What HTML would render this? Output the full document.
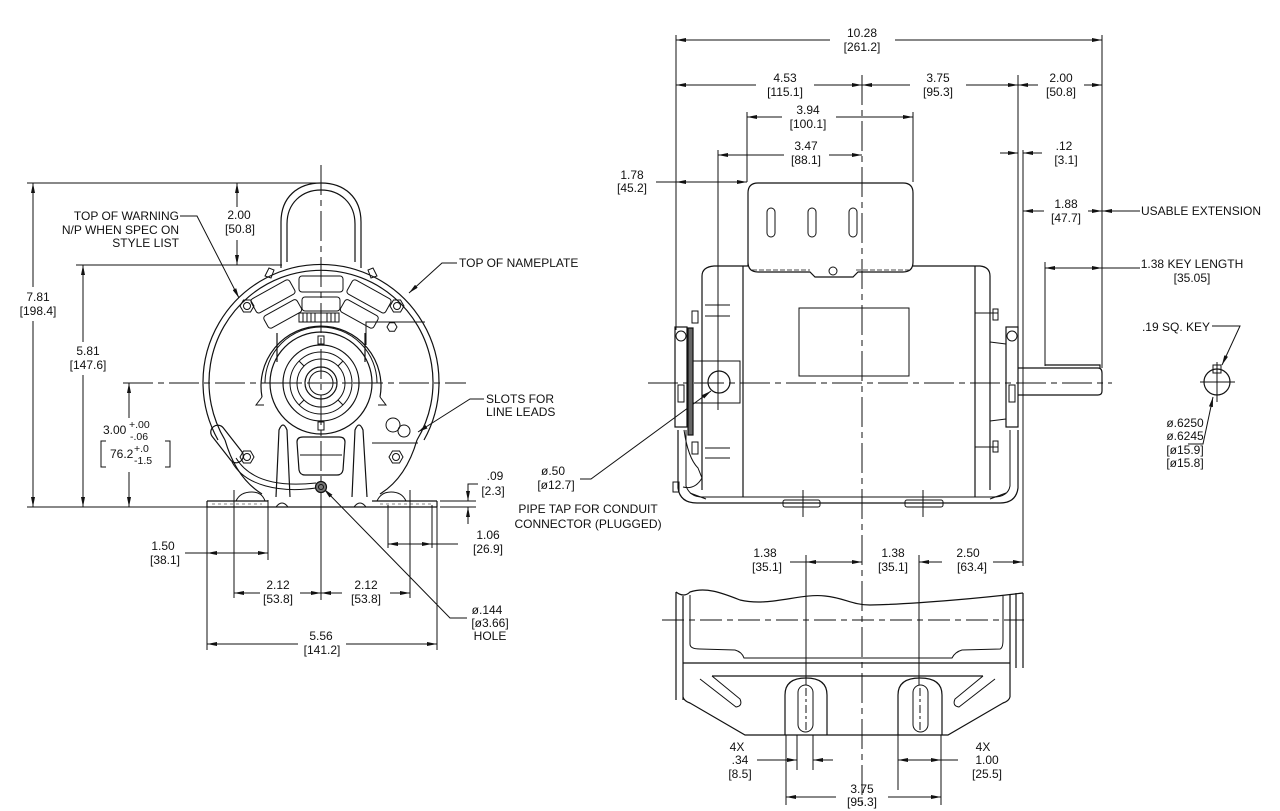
<!DOCTYPE html>
<html><head><meta charset="utf-8"><style>
body{margin:0;background:#fff}
svg{display:block}
text{font-family:"Liberation Sans",sans-serif;font-size:12px;fill:#111;stroke:none}
.s{font-size:10.5px}
</style></head><body>
<svg width="1280" height="811" viewBox="0 0 1280 811" xmlns="http://www.w3.org/2000/svg">
<defs>
<marker id="a" viewBox="0 0 10 4" refX="10" refY="2" markerWidth="10" markerHeight="4" markerUnits="userSpaceOnUse" orient="auto"><path d="M0,0L10,2L0,4z" fill="#111" stroke="none"/></marker>
</defs>
<rect width="1280" height="811" fill="#fff"/>
<g stroke="#111" fill="none" stroke-width="1">

<!-- ================= LEFT VIEW ================= -->
<path d="M123,383H466" stroke-dasharray="30,5,6,5"/>
<path d="M321,165V505" stroke-dasharray="30,5,6,5"/>
<path d="M321,505V600"/>
<path d="M27,183H325M27,507H207M76,265H282"/>
<path d="M207,507V650M234,490V598M268,500V560M388,505V548M410,490V598M432,505V548M437,507V650"/>
<path d="M440,501H476M440,507H476"/>
<path d="M33,287V183" marker-end="url(#a)"/>
<path d="M33,321V507" marker-end="url(#a)"/>
<path d="M83,342V265" marker-end="url(#a)"/>
<path d="M83,375V507" marker-end="url(#a)"/>
<path d="M237,207V183" marker-end="url(#a)"/>
<path d="M237,240V265" marker-end="url(#a)"/>
<path d="M129,418V383" marker-end="url(#a)"/>
<path d="M129,472V507" marker-end="url(#a)"/>
<path d="M478,484H468V501" marker-end="url(#a)"/>
<path d="M468,524V507" marker-end="url(#a)"/>
<path d="M410,544H388" marker-end="url(#a)"/>
<path d="M410,544H432" marker-end="url(#a)"/>
<path d="M432,544H458"/>
<path d="M185,553H207"/>
<path d="M237,553H207" marker-end="url(#a)"/>
<path d="M237,553H268" marker-end="url(#a)"/>
<path d="M260,593H234" marker-end="url(#a)"/>
<path d="M300,593H321" marker-end="url(#a)"/>
<path d="M342,593H321" marker-end="url(#a)"/>
<path d="M390,593H410" marker-end="url(#a)"/>
<path d="M298,644H207" marker-end="url(#a)"/>
<path d="M346,644H437" marker-end="url(#a)"/>
<path d="M180,216H197L239,298" marker-end="url(#a)"/>
<path d="M457,263H442L409,293" marker-end="url(#a)"/>
<path d="M484,399H470L418,432" marker-end="url(#a)"/>
<path d="M467,618H450L324,489" marker-end="url(#a)"/>
<path d="M580,479H591L711,391" marker-end="url(#a)"/>
<path d="M106,441H101V467H106M165,441H170V467H165"/>

<g stroke-width="1.2">
<path d="M281,268V222C281,197 298,183 321,183C344,183 361,197 361,222V268"/>
<path d="M287,262V224C287,203 302,190 321,190C340,190 355,203 355,224V262"/>
<path d="M218,440A118,118 0 1 1 424,440"/>
<path d="M225,440A112,112 0 1 1 417,440"/>
<path d="M225,440Q236,478 262,494M417,440Q406,478 380,494"/>
<path d="M265,276l4,-8 5,2 -3,8zM377,276l-4,-8 -5,2 3,8z" stroke-width="1"/>
<g stroke-width="1">
<rect x="299" y="276" width="44" height="16" rx="3" transform="rotate(-29 321 383)"/>
<rect x="299" y="276" width="44" height="16" rx="3"/>
<rect x="299" y="276" width="44" height="16" rx="3" transform="rotate(29 321 383)"/>
<rect x="302" y="297" width="38" height="14" rx="3" transform="rotate(-29 321 383)"/>
<rect x="302" y="297" width="38" height="14" rx="3"/>
<rect x="302" y="297" width="38" height="14" rx="3" transform="rotate(29 321 383)"/>
<rect x="299" y="313" width="40" height="9"/>
<path d="M303,313v9M307,313v9M311,313v9M315,313v9M327,313v9M331,313v9M335,313v9"/>
</g>
<path d="M262,397A60,60 0 1 1 380,397"/>
<path d="M262,397l-6,8h8M380,397l6,8h-8" stroke-width="1"/>
<path d="M277,333V362M365,333V362"/>
<circle cx="321" cy="383" r="51"/>
<path d="M265,383A56,56 0 0 1 377,383" stroke-width="1"/>
<circle cx="321" cy="383" r="38"/>
<circle cx="321" cy="383" r="31" stroke-width="1"/>
<circle cx="321" cy="383" r="24" stroke-width="1"/>
<path d="M321,352V359M321,407V414M290,383H297M345,383H352M299,361l5,5M343,361l-5,5M299,405l5,-5M343,405l-5,-5" stroke-width="1"/>
<circle cx="321" cy="383" r="16"/>
<circle cx="321" cy="383" r="12" stroke-width="1"/>
<path d="M318,336h6v8h-6zM318,422h6v8h-6z" stroke-width="1"/>
<path d="M276,497L279,430Q283,420 287,430L290,497M352,497L355,430Q359,420 363,430L367,497"/>
<path d="M297,442Q297,437 303,437H339Q345,437 345,442L343,470Q342,475 337,475H305Q300,475 299,470Z"/>
<path d="M300,455H342" stroke-width="1"/>
<path d="M366,345V322H425M372,443H418" stroke-width="1"/>
<circle cx="393" cy="425" r="7" stroke-width="1"/>
<circle cx="404" cy="431" r="6" stroke-width="1"/>
<g stroke-width="1">
<polygon points="254,306 250.5,312 243.5,312 240,306 243.5,300 250.5,300"/><circle cx="247" cy="306" r="3.5"/>
<polygon points="404,306 400.5,312 393.5,312 390,306 393.5,300 400.5,300"/><circle cx="397" cy="306" r="3.5"/>
<polygon points="254,457 250.5,463 243.5,463 240,457 243.5,451 250.5,451"/><circle cx="247" cy="457" r="3.5"/>
<polygon points="403,457 399.5,463 392.5,463 389,457 392.5,451 399.5,451"/><circle cx="396" cy="457" r="3.5"/>
<polygon points="397,327 394.5,331.3 389.5,331.3 387,327 389.5,322.7 394.5,322.7"/>
</g>
<rect x="-22" y="-7" width="44" height="14" rx="7" transform="translate(227,444) rotate(52)"/>
<path d="M232,462C245,486 280,493 316,488M236,458C250,481 280,487 316,483" stroke-width="1"/>
<circle cx="321" cy="487" r="5.5" fill="#777"/>
<circle cx="321" cy="487" r="2.5" stroke-width="1"/>
<path d="M207,501H268M372,501H437M207,507H437M207,501V507M437,501V507"/>
<path d="M236,501Q240,492 252,492Q262,492 265,501M377,501Q381,492 391,492Q402,492 406,501" stroke-width="1"/>
<path d="M276,507Q282,499 288,507M354,507Q360,499 366,507" stroke-width="1"/>
<path d="M212,504H262M380,504H432" stroke-width="0.6" stroke-dasharray="3,3"/>
</g>

<!-- ================= RIGHT VIEW ================= -->
<path d="M648,383H1112" stroke-dasharray="30,5,6,5"/>
<path d="M862,75V805" stroke-dasharray="30,5,6,5"/>
<path d="M676,35V330M1102,35V368M1018,75V350M1023,150V566M747,112V182M913,112V182M718,150V410M1045,262V366"/>
<path d="M830,40H676" marker-end="url(#a)"/>
<path d="M895,40H1102" marker-end="url(#a)"/>
<path d="M756,85H676" marker-end="url(#a)"/>
<path d="M814,85H862" marker-end="url(#a)"/>
<path d="M910,85H862" marker-end="url(#a)"/>
<path d="M966,85H1018" marker-end="url(#a)"/>
<path d="M1038,85H1018" marker-end="url(#a)"/>
<path d="M1084,85H1102" marker-end="url(#a)"/>
<path d="M782,117H747" marker-end="url(#a)"/>
<path d="M836,117H913" marker-end="url(#a)"/>
<path d="M784,155H718" marker-end="url(#a)"/>
<path d="M829,155H862" marker-end="url(#a)"/>
<path d="M1000,153H1018" marker-end="url(#a)"/>
<path d="M1042,153H1023" marker-end="url(#a)"/>
<path d="M656,182H676"/>
<path d="M711,182H676" marker-end="url(#a)"/>
<path d="M711,182H747" marker-end="url(#a)"/>
<path d="M1044,211H1023" marker-end="url(#a)"/>
<path d="M1088,211H1102" marker-end="url(#a)"/>
<path d="M1140,211H1102" marker-end="url(#a)"/>
<path d="M1074,268H1045" marker-end="url(#a)"/>
<path d="M1074,268H1102" marker-end="url(#a)"/>
<path d="M1102,268H1140"/>
<path d="M1212,326H1240L1222,365" marker-end="url(#a)"/>
<path d="M1188,444H1203L1213,397" marker-end="url(#a)"/>
<circle cx="1217" cy="382" r="13" stroke-width="1.2"/>
<rect x="1213" y="365" width="8" height="8"/>
<path d="M1200,382H1235M1217,362V402"/>

<g stroke-width="1.2">
<path d="M748,266V193Q748,183 758,183H903Q913,183 913,193V262Q913,272 903,272H858L853,277H815L810,272H758Q748,272 748,262"/>
<path d="M752,270H810M856,270H909" stroke-dasharray="5,2" stroke-width="0.8"/>
<circle cx="833" cy="271" r="4" stroke-width="1"/>
<rect x="767" y="208" width="8" height="29" rx="4" stroke-width="1"/>
<rect x="808" y="208" width="8" height="29" rx="4" stroke-width="1"/>
<rect x="849" y="208" width="8" height="29" rx="4" stroke-width="1"/>
<path d="M702,490V276Q702,267 714,266H748M913,266H980Q990,267 990,276V490"/>
<path d="M743,266V497M975,266V497"/>
<rect x="799" y="308" width="110" height="68" stroke-width="1"/>
<rect x="675" y="327" width="12" height="100"/>
<circle cx="681" cy="336" r="5" stroke-width="1"/>
<rect x="678" y="385" width="6" height="17" stroke-width="1"/>
<rect x="688" y="328" width="5" height="107" fill="#666"/>
<rect x="693" y="361" width="47" height="42" stroke-width="1"/>
<circle cx="719" cy="382" r="11"/>
<path d="M705,305H730M705,316H730M705,448H730M705,458H730" stroke-width="1"/>
<rect x="692" y="311" width="6" height="12" stroke-width="1"/>
<rect x="692" y="442" width="6" height="12" stroke-width="1"/>
<path d="M684,430Q688,458 698,468L702,478Q695,490 683,487" stroke-width="1"/>
<rect x="673" y="482" width="6" height="10" stroke-width="1"/>
<rect x="1006" y="327" width="12" height="100"/>
<circle cx="1012" cy="336" r="5" stroke-width="1"/>
<rect x="1009" y="385" width="6" height="17" stroke-width="1"/>
<path d="M975,313H998M975,447H998M990,342L1006,344M990,421L1006,419" stroke-width="1"/>
<rect x="993" y="309" width="5" height="11" stroke-width="1"/>
<rect x="993" y="441" width="5" height="11" stroke-width="1"/>
<path d="M678,430V488Q680,503 697,503H1000Q1016,503 1018,488V430"/>
<path d="M686,430V486Q690,497 702,497H993Q1008,497 1010,486V430" stroke-width="1"/>
<path d="M690,493L706,499M1006,493L990,499" stroke-width="1"/>
<rect x="783" y="500" width="37" height="7" rx="2" stroke-width="1"/>
<rect x="905" y="500" width="38" height="7" rx="2" stroke-width="1"/>
<path d="M1018,368H1098Q1102,368 1102,373V391Q1102,395 1098,395H1018"/>
<path d="M1045,365H1100V368"/>
</g>
<path d="M803,490V517M923,490V517"/>

<!-- ================= BOTTOM (BASE) VIEW ================= -->
<path d="M662,620H1024" stroke-dasharray="22,5,6,5"/>
<g stroke-width="1.2">
<path d="M676,592Q684,598 690,592C705,587 720,592 740,600C770,607 800,593 825,596C845,598 852,605 870,605C920,604 990,597 1023,593"/>
<path d="M676,592V700M683,596V700M1010,594V697M1016,593V668M1023,593V668"/>
<path d="M690,595V644Q690,649 700,649L735,650Q742,652 744,658H952Q955,652 962,650L1000,649Q1003,648 1003,640V596" stroke-width="1"/>
<path d="M683,663H1010M712,676H983"/>
<path d="M712,676L740,699Q743,706 736,707L700,679M983,676L955,699Q952,706 959,707L995,679" stroke-width="1"/>
<path d="M683,697Q684,701 690,703L745,735H948L1003,703Q1009,701 1010,697"/>
<path d="M785,735V695Q785,678 806,678Q827,678 827,695V735"/>
<path d="M898,735V695Q898,678 920,678Q942,678 942,695V735"/>
<rect x="798" y="685" width="15" height="47" rx="7.5" stroke-width="1"/>
<rect x="913" y="685" width="15" height="47" rx="7.5" stroke-width="1"/>
</g>
<path d="M806,555V685M919,555V685"/>
<path d="M806,688V730M920,688V730" stroke-dasharray="8,3,3,3"/>
<path d="M797,735V770M813,735V770M898,735V790M941,735V805M786,735V805"/>
<path d="M790,562H806"/>
<path d="M836,562H806" marker-end="url(#a)"/>
<path d="M836,562H862" marker-end="url(#a)"/>
<path d="M942,562H919" marker-end="url(#a)"/>
<path d="M993,562H1023" marker-end="url(#a)"/>
<path d="M757,760H797" marker-end="url(#a)"/>
<path d="M833,760H813" marker-end="url(#a)"/>
<path d="M920,760H898" marker-end="url(#a)"/>
<path d="M920,760H941" marker-end="url(#a)"/>
<path d="M941,760H958"/>
<path d="M836,797H786" marker-end="url(#a)"/>
<path d="M888,797H941" marker-end="url(#a)"/>
</g>

<!-- ================= TEXT ================= -->
<g text-anchor="middle">
<text x="38" y="301">7.81</text><text x="38" y="315">[198.4]</text>
<text x="88" y="355">5.81</text><text x="88" y="369">[147.6]</text>
<text x="239" y="219">2.00</text><text x="240" y="233">[50.8]</text>
<text x="495" y="480">.09</text><text x="493" y="495">[2.3]</text>
<text x="488" y="539">1.06</text><text x="488" y="553">[26.9]</text>
<text x="163" y="550">1.50</text><text x="165" y="564">[38.1]</text>
<text x="278" y="589">2.12</text><text x="278" y="603">[53.8]</text>
<text x="366" y="589">2.12</text><text x="366" y="603">[53.8]</text>
<text x="321" y="640">5.56</text><text x="322" y="654">[141.2]</text>
<text x="487" y="614">ø.144</text><text x="490" y="627">[ø3.66]</text><text x="490" y="640">HOLE</text>
<text x="553" y="475">ø.50</text><text x="556" y="489">[ø12.7]</text>
<text x="588" y="513">PIPE TAP FOR CONDUIT</text><text x="588" y="528">CONNECTOR (PLUGGED)</text>

<text x="862" y="37">10.28</text><text x="862" y="51">[261.2]</text>
<text x="785" y="82">4.53</text><text x="785" y="96">[115.1]</text>
<text x="938" y="82">3.75</text><text x="938" y="96">[95.3]</text>
<text x="1061" y="82">2.00</text><text x="1061" y="96">[50.8]</text>
<text x="808" y="114">3.94</text><text x="808" y="128">[100.1]</text>
<text x="806" y="150">3.47</text><text x="806" y="164">[88.1]</text>
<text x="1064" y="150">.12</text><text x="1066" y="164">[3.1]</text>
<text x="632" y="179">1.78</text><text x="632" y="192">[45.2]</text>
<text x="1066" y="208">1.88</text><text x="1066" y="222">[47.7]</text>
<text x="1192" y="268">1.38 KEY LENGTH</text><text x="1192" y="282">[35.05]</text>
<text x="1176" y="331">.19 SQ. KEY</text>
<text x="1185" y="427">ø.6250</text><text x="1185" y="440">ø.6245</text><text x="1185" y="454">[ø15.9]</text><text x="1185" y="467">[ø15.8]</text>

<text x="765" y="557">1.38</text><text x="767" y="571">[35.1]</text>
<text x="893" y="557">1.38</text><text x="893" y="571">[35.1]</text>
<text x="968" y="557">2.50</text><text x="972" y="571">[63.4]</text>
<text x="737" y="751">4X</text><text x="740" y="764">.34</text><text x="740" y="778">[8.5]</text>
<text x="983" y="751">4X</text><text x="987" y="764">1.00</text><text x="987" y="778">[25.5]</text>
<text x="862" y="793">3.75</text><text x="862" y="806">[95.3]</text>
</g>
<g text-anchor="end">
<text x="179" y="220">TOP OF WARNING</text>
<text x="179" y="234">N/P WHEN SPEC ON</text>
<text x="179" y="247">STYLE LIST</text>
</g>
<text x="459" y="267">TOP OF NAMEPLATE</text>
<text x="486" y="403">SLOTS FOR</text>
<text x="486" y="416">LINE LEADS</text>
<text x="1141" y="215">USABLE EXTENSION</text>
<text x="103" y="434">3.00</text>
<text class="s" x="129" y="428">+.00</text>
<text class="s" x="130" y="440">-.06</text>
<text x="110" y="458">76.2</text>
<text class="s" x="134" y="452">+.0</text>
<text class="s" x="134" y="464">-1.5</text>
</svg>
</body></html>
